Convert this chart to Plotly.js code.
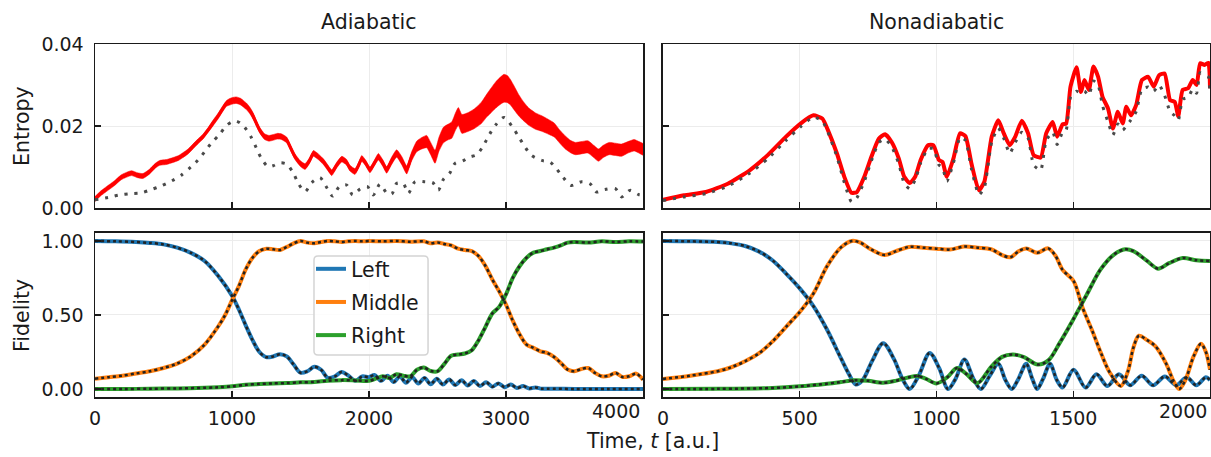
<!DOCTYPE html>
<html>
<head>
<meta charset="utf-8">
<script src="https://cdn.plot.ly/plotly-3.0.1.min.js"></script>
<style>
  html, body { margin: 0; padding: 0; background: #ffffff; }
  #chart { width: 1211px; height: 457px; }
</style>
</head>
<body>
<div id="chart"></div>
<script>
// ---------- Entropy, adiabatic transfer (t in a.u.) ----------
const adiaEntropyT = [
  0, 40, 83, 140, 192, 265, 310, 350, 399, 440,
  472, 520, 569, 610, 642, 680, 715, 750, 788, 825,
  861, 900, 934, 960, 983, 1010, 1031, 1060, 1080, 1105,
  1130, 1153, 1180, 1202, 1238, 1270, 1299, 1330, 1360, 1399,
  1430, 1460, 1500, 1533, 1565, 1594, 1630, 1667, 1700, 1728,
  1765, 1801, 1835, 1861, 1898, 1925, 1947, 1975, 2007, 2040,
  2068, 2100, 2129, 2165, 2202, 2240, 2275, 2310, 2348, 2385,
  2421, 2450, 2482, 2510, 2543, 2575, 2604, 2630, 2652, 2678,
  2725, 2770, 2820, 2862, 2890, 2923, 2955, 2985, 3010, 3031,
  3060, 3092, 3130, 3169, 3215, 3261, 3310, 3353, 3390, 3429,
  3470, 3506, 3550, 3598, 3640, 3675, 3710, 3752, 3800, 3844,
  3890, 3936, 3970, 4000
];
// entropy of the full evolution (centre of the fast-oscillating trace)
const adiaEntropy = [
  0.0022, 0.0035, 0.0046, 0.0060, 0.0075, 0.0085, 0.0080, 0.0078, 0.0089, 0.0103,
  0.0110, 0.0112, 0.0117, 0.0122, 0.0129, 0.0138, 0.0150, 0.0162, 0.0174, 0.0190,
  0.0207, 0.0225, 0.0243, 0.0255, 0.0259, 0.0262, 0.0263, 0.0260, 0.0255, 0.0248,
  0.0238, 0.0225, 0.0205, 0.0190, 0.0174, 0.0170, 0.0172, 0.0175, 0.0174, 0.0166,
  0.0145, 0.0125, 0.0108, 0.0101, 0.0115, 0.0133, 0.0125, 0.0113, 0.0098, 0.0086,
  0.0105, 0.0119, 0.0112, 0.0097, 0.0089, 0.0105, 0.0121, 0.0110, 0.0093, 0.0110,
  0.0125, 0.0110, 0.0093, 0.0115, 0.0133, 0.0115, 0.0093, 0.0125, 0.0150, 0.0158,
  0.0162, 0.0145, 0.0125, 0.0155, 0.0178, 0.0185, 0.0190, 0.0210, 0.0223, 0.0205,
  0.0210, 0.0218, 0.0232, 0.0251, 0.0262, 0.0275, 0.0285, 0.0292, 0.0290, 0.0283,
  0.0268, 0.0251, 0.0235, 0.0222, 0.0212, 0.0206, 0.0198, 0.0190, 0.0175, 0.0161,
  0.0150, 0.0145, 0.0147, 0.0149, 0.0138, 0.0129, 0.0138, 0.0145, 0.0143, 0.0141,
  0.0148, 0.0153, 0.0148, 0.0143
];
// half-amplitude of the fast oscillation around that centre
const adiaEntropySpread = [
  0.0006, 0.0006, 0.0006, 0.0006, 0.0006, 0.0006, 0.0006, 0.0006, 0.0006, 0.0006,
  0.0006, 0.0006, 0.0006, 0.0006, 0.0006, 0.0006, 0.0006, 0.0006, 0.0006, 0.0006,
  0.0007, 0.0007, 0.0007, 0.0007, 0.0008, 0.0008, 0.0008, 0.0008, 0.0008, 0.0008,
  0.0008, 0.0008, 0.0007, 0.0007, 0.0007, 0.0007, 0.0007, 0.0007, 0.0007, 0.0007,
  0.0007, 0.0007, 0.0007, 0.0007, 0.0007, 0.0007, 0.0007, 0.0007, 0.0007, 0.0007,
  0.0007, 0.0007, 0.0007, 0.0007, 0.0007, 0.0007, 0.0007, 0.0007, 0.0007, 0.0007,
  0.0008, 0.0008, 0.0008, 0.0009, 0.0009, 0.0010, 0.0010, 0.0011, 0.0013, 0.0014,
  0.0015, 0.0015, 0.0016, 0.0017, 0.0019, 0.0019, 0.0020, 0.0021, 0.0022, 0.0023,
  0.0023, 0.0024, 0.0026, 0.0028, 0.0030, 0.0032, 0.0033, 0.0034, 0.0033, 0.0031,
  0.0029, 0.0026, 0.0023, 0.0021, 0.0020, 0.0019, 0.0018, 0.0017, 0.0016, 0.0016,
  0.0015, 0.0015, 0.0015, 0.0015, 0.0015, 0.0015, 0.0015, 0.0015, 0.0015, 0.0015,
  0.0014, 0.0014, 0.0014, 0.0014
];
// entropy of the reduced (dotted) model
const adiaModelT = [
  0, 100, 180, 260, 338, 410, 484, 560, 630, 700,
  752, 800, 849, 910, 959, 1000, 1031, 1060, 1092, 1141,
  1178, 1214, 1263, 1300, 1348, 1399, 1448, 1484, 1533, 1582,
  1642, 1691, 1735, 1783, 1837, 1881, 1934, 1988, 2031, 2080,
  2129, 2166, 2202, 2251, 2287, 2336, 2409, 2465, 2506, 2543,
  2591, 2628, 2684, 2732, 2785, 2831, 2880, 2923, 2985, 3046,
  3090, 3123, 3184, 3261, 3322, 3370, 3414, 3475, 3552, 3613,
  3660, 3721, 3798, 3844, 3905, 3966, 4000
];
const adiaModelEntropy = [
  0.0020, 0.0026, 0.0032, 0.0035, 0.0037, 0.0045, 0.0054, 0.0066, 0.0080, 0.0100,
  0.0117, 0.0137, 0.0158, 0.0180, 0.0201, 0.0210, 0.0212, 0.0207, 0.0197, 0.0172,
  0.0146, 0.0121, 0.0101, 0.0103, 0.0110, 0.0107, 0.0085, 0.0060, 0.0040, 0.0062,
  0.0074, 0.0050, 0.0029, 0.0052, 0.0056, 0.0032, 0.0046, 0.0052, 0.0032, 0.0058,
  0.0037, 0.0034, 0.0060, 0.0059, 0.0036, 0.0064, 0.0064, 0.0062, 0.0044, 0.0070,
  0.0086, 0.0109, 0.0115, 0.0124, 0.0130, 0.0150, 0.0180, 0.0202, 0.0221, 0.0198,
  0.0175, 0.0157, 0.0129, 0.0116, 0.0112, 0.0095, 0.0076, 0.0055, 0.0064, 0.0059,
  0.0039, 0.0045, 0.0047, 0.0027, 0.0043, 0.0033, 0.0032
];

// ---------- Entropy, nonadiabatic transfer ----------
const nonadEntropyT = [
  0, 77, 157, 237, 317, 383, 450, 503, 550, 583,
  603, 636, 663, 689, 709, 736, 762, 789, 812, 836,
  862, 882, 902, 922, 942, 969, 989, 1009, 1022, 1038,
  1062, 1086, 1106, 1128, 1155, 1175, 1202, 1226, 1246, 1268,
  1288, 1312, 1335, 1355, 1381, 1401, 1425, 1441, 1461, 1474,
  1490, 1512, 1528, 1541, 1557, 1574, 1591, 1607, 1627, 1645,
  1663, 1681, 1694, 1711, 1730, 1751, 1774, 1794, 1814, 1834,
  1854, 1871, 1884, 1900, 1920, 1937, 1951, 1964, 1980, 1994, 2000
];
const nonadEntropy = [
  0.0020, 0.0031, 0.0039, 0.0059, 0.0092, 0.0129, 0.0174, 0.0206, 0.0226, 0.0218,
  0.0190, 0.0133, 0.0076, 0.0037, 0.0039, 0.0076, 0.0125, 0.0169, 0.0180, 0.0161,
  0.0121, 0.0076, 0.0061, 0.0076, 0.0117, 0.0153, 0.0153, 0.0117, 0.0112, 0.0076,
  0.0121, 0.0182, 0.0175, 0.0108, 0.0043, 0.0064, 0.0174, 0.0214, 0.0182, 0.0153,
  0.0174, 0.0213, 0.0182, 0.0129, 0.0123, 0.0182, 0.0210, 0.0174, 0.0204, 0.0206,
  0.0296, 0.0343, 0.0283, 0.0312, 0.0288, 0.0345, 0.0320, 0.0271, 0.0243, 0.0194,
  0.0235, 0.0206, 0.0247, 0.0226, 0.0251, 0.0312, 0.0320, 0.0296, 0.0324, 0.0328,
  0.0263, 0.0259, 0.0224, 0.0288, 0.0292, 0.0312, 0.0300, 0.0353, 0.0349, 0.0354, 0.0292
];
const nonadModelEntropy = [
  0.0018, 0.0027, 0.0035, 0.0053, 0.0085, 0.0120, 0.0165, 0.0198, 0.0222, 0.0212,
  0.0185, 0.0125, 0.0062, 0.0015, 0.0025, 0.0065, 0.0115, 0.0160, 0.0168, 0.0150,
  0.0108, 0.0060, 0.0047, 0.0068, 0.0110, 0.0145, 0.0145, 0.0105, 0.0098, 0.0065,
  0.0110, 0.0172, 0.0165, 0.0095, 0.0032, 0.0050, 0.0162, 0.0195, 0.0170, 0.0133,
  0.0160, 0.0185, 0.0170, 0.0105, 0.0092, 0.0165, 0.0185, 0.0155, 0.0185, 0.0190,
  0.0270, 0.0285, 0.0280, 0.0285, 0.0275, 0.0310, 0.0300, 0.0250, 0.0210, 0.0178,
  0.0205, 0.0190, 0.0200, 0.0215, 0.0235, 0.0290, 0.0295, 0.0285, 0.0300, 0.0275,
  0.0235, 0.0225, 0.0214, 0.0265, 0.0270, 0.0290, 0.0280, 0.0330, 0.0325, 0.0320, 0.0275
];

// ---------- Fidelity with the left / middle / right wells, adiabatic ----------
const adiaLeftT = [
  0, 150, 300, 400, 500, 600, 700, 800, 900, 1000,
  1050, 1100, 1150, 1200, 1250, 1300, 1350, 1400, 1450, 1500,
  1550, 1600, 1650, 1700, 1750, 1800, 1850, 1900, 1950, 2000,
  2040, 2088, 2135, 2180, 2225, 2270, 2315, 2360, 2405, 2450,
  2495, 2540, 2585, 2630, 2675, 2720, 2765, 2810, 2855, 2900,
  2945, 2990, 3035, 3080, 3125, 3170, 3215, 3260, 3300, 3500,
  3750, 4000
];
const adiaLeft = [
  1.0, 0.998, 0.993, 0.987, 0.977, 0.955, 0.92, 0.865, 0.763, 0.63,
  0.537, 0.43, 0.33, 0.25, 0.215, 0.22, 0.235, 0.22, 0.165, 0.11,
  0.12, 0.15, 0.13, 0.075, 0.085, 0.115, 0.09, 0.055, 0.085, 0.08,
  0.095, 0.055, 0.09, 0.048, 0.085, 0.043, 0.08, 0.038, 0.075, 0.033,
  0.07, 0.03, 0.065, 0.027, 0.06, 0.024, 0.054, 0.02, 0.046, 0.016,
  0.038, 0.012, 0.03, 0.007, 0.02, 0.004, 0.011, 0.002, 0.002, 0.0005,
  0.0, 0.0
];
const adiaMiddleT = [
  0, 100, 200, 300, 400, 500, 600, 700, 800, 900,
  950, 1000, 1050, 1100, 1150, 1200, 1250, 1300, 1350, 1400,
  1450, 1500, 1550, 1600, 1650, 1700, 1750, 1800, 1850, 1900,
  1950, 2000, 2100, 2200, 2300, 2400, 2450, 2500, 2550, 2600,
  2650, 2700, 2750, 2800, 2850, 2900, 2950, 3000, 3050, 3100,
  3150, 3200, 3250, 3300, 3350, 3400, 3450, 3500, 3550, 3600,
  3650, 3700, 3750, 3800, 3850, 3900, 3950, 4000
];
const adiaMiddle = [
  0.07, 0.08, 0.09, 0.105, 0.12, 0.142, 0.172, 0.221, 0.30, 0.424,
  0.5, 0.6, 0.695, 0.808, 0.887, 0.932, 0.948, 0.944, 0.939, 0.96,
  0.984, 1.0, 0.989, 0.984, 0.993, 1.0, 0.998, 0.993, 0.998, 1.0,
  0.998, 1.0, 0.998, 1.0, 0.995, 0.998, 0.984, 0.99, 0.98, 0.97,
  0.948, 0.939, 0.932, 0.898, 0.831, 0.74, 0.66, 0.57, 0.46, 0.368,
  0.30, 0.278, 0.255, 0.244, 0.217, 0.176, 0.131, 0.12, 0.135, 0.142,
  0.108, 0.086, 0.09, 0.108, 0.081, 0.086, 0.104, 0.063
];
const adiaRightT = [
  0, 200, 400, 600, 800, 900, 1000, 1100, 1200, 1300,
  1400, 1500, 1600, 1700, 1800, 1900, 2000, 2050, 2100, 2150,
  2200, 2250, 2300, 2350, 2400, 2450, 2500, 2550, 2600, 2650,
  2700, 2750, 2800, 2850, 2900, 2950, 3000, 3050, 3100, 3150,
  3200, 3250, 3300, 3350, 3400, 3450, 3500, 3600, 3700, 3800,
  3900, 4000
];
const adiaRight = [
  0.0, 0.0, 0.002, 0.004, 0.008, 0.012, 0.018, 0.028, 0.034, 0.038,
  0.04, 0.045, 0.048, 0.056, 0.06, 0.058, 0.055, 0.07, 0.086, 0.075,
  0.1, 0.09, 0.085, 0.13, 0.145, 0.122, 0.12, 0.17, 0.225, 0.233,
  0.24, 0.262, 0.33, 0.42, 0.51, 0.555, 0.64, 0.752, 0.831, 0.887,
  0.921, 0.932, 0.944, 0.955, 0.97, 0.989, 0.993, 0.989, 0.998, 0.993,
  0.998, 0.996
];

// ---------- Fidelity, nonadiabatic ----------
const nonadLeftT = [
  0, 100, 200, 250, 300, 350, 400, 450, 500, 550,
  600, 650, 680, 705, 730, 765, 805, 845, 875, 902,
  935, 975, 1010, 1042, 1070, 1102, 1135, 1162, 1195, 1226,
  1252, 1275, 1300, 1328, 1350, 1368, 1390, 1415, 1440, 1461,
  1501, 1545, 1585, 1625, 1667, 1708, 1750, 1792, 1835, 1877,
  1915, 1950, 1985, 2000
];
const nonadLeft = [
  1.0, 0.998, 0.993, 0.984, 0.966, 0.93, 0.87, 0.78, 0.68, 0.56,
  0.40, 0.21, 0.1, 0.03, 0.06, 0.19, 0.31, 0.2, 0.07, 0.0,
  0.09, 0.244, 0.14, 0.0, 0.07, 0.2, 0.07, 0.0, 0.09, 0.17,
  0.06, 0.0, 0.07, 0.17, 0.07, 0.0, 0.07, 0.17, 0.06, 0.01,
  0.13, 0.01, 0.1, 0.02, 0.1, 0.025, 0.09, 0.025, 0.085, 0.025,
  0.08, 0.025, 0.08, 0.06
];
const nonadMiddleT = [
  0, 100, 200, 250, 300, 350, 400, 450, 500, 550,
  600, 650, 690, 720, 760, 810, 850, 900, 950, 1000,
  1050, 1100, 1150, 1200, 1240, 1270, 1300, 1328, 1368, 1408,
  1435, 1461, 1501, 1534, 1568, 1601, 1634, 1674, 1700, 1720,
  1740, 1770, 1800, 1840, 1865, 1887, 1910, 1940, 1967, 1985,
  2000
];
const nonadMiddle = [
  0.068, 0.09, 0.12, 0.147, 0.187, 0.24, 0.32, 0.42, 0.52, 0.645,
  0.83, 0.955, 1.0, 0.99, 0.944, 0.905, 0.93, 0.96, 0.955, 0.948,
  0.942, 0.962, 0.955, 0.944, 0.905, 0.89, 0.93, 0.95, 0.92, 0.95,
  0.9, 0.805, 0.73, 0.55, 0.40, 0.245, 0.11, 0.02, 0.12, 0.28,
  0.36, 0.33, 0.29, 0.17, 0.06, 0.0, 0.06, 0.22, 0.305, 0.25,
  0.13
];
const nonadRightT = [
  0, 200, 400, 500, 600, 650, 700, 750, 805, 850,
  900, 930, 960, 1000, 1040, 1075, 1110, 1150, 1200, 1240,
  1280, 1320, 1370, 1410, 1450, 1500, 1550, 1600, 1650, 1690,
  1720, 1770, 1810, 1850, 1900, 1950, 2000
];
const nonadRight = [
  0.0, 0.001, 0.007, 0.018, 0.036, 0.047, 0.059, 0.055, 0.042, 0.055,
  0.08, 0.088, 0.07, 0.038, 0.08, 0.142, 0.1, 0.04, 0.15, 0.217,
  0.233, 0.215, 0.165, 0.195, 0.31, 0.47, 0.64, 0.808, 0.91, 0.944,
  0.932, 0.865, 0.813, 0.85, 0.885, 0.87, 0.865
];

// ---------- labels ----------
const panelTitles = ['Adiabatic', 'Nonadiabatic'];
const rowTitles = ['Entropy', 'Fidelity'];
const xTitle = 'Time, <i>t</i> [a.u.]';
const wellNames = ['Left', 'Middle', 'Right'];
const entropyTicks = [0, 0.02, 0.04];
const entropyTickText = ['0.00', '0.02', '0.04'];
const fidelityTicks = [0, 0.5, 1];
const fidelityTickText = ['0.00', '0.50', '1.00'];
const adiaTimeTicks = [0, 1000, 2000, 3000, 4000];
const nonadTimeTicks = [0, 500, 1000, 1500, 2000];

// ---------- styling ----------
const FONT = 'DejaVu Sans, Liberation Sans, sans-serif';
const INK = '#1a1a1a';
const TICK_SIZE = 19;
const TEXT_SIZE = 20.5;
const wellColors = ['#1f77b4', '#ff7f0e', '#2ca02c'];
const RED = '#ff0000';
const MODEL_GREY = '#4a4a4a';

function band(t, centre, spread, xa, ya) {
  const upper = centre.map((v, i) => v + spread[i]);
  const lower = centre.map((v, i) => v - spread[i]).reverse();
  return {
    type: 'scatter', mode: 'lines', xaxis: xa, yaxis: ya,
    x: t.concat(t.slice().reverse()), y: upper.concat(lower),
    fill: 'toself', fillcolor: RED,
    line: {width: 0.5, color: RED, shape: 'spline', smoothing: 0.5},
    hoverinfo: 'skip', showlegend: false
  };
}
function curve(t, y, xa, ya, color, width, dash, smooth, extra) {
  return Object.assign({
    type: 'scatter', mode: 'lines', xaxis: xa, yaxis: ya, x: t, y: y,
    line: {color: color, width: width, dash: dash,
           shape: smooth ? 'spline' : 'linear', smoothing: smooth || 0},
    showlegend: false, hoverinfo: 'skip'
  }, extra || {});
}

const traces = [];
// top-left: adiabatic entropy
traces.push(band(adiaEntropyT, adiaEntropy, adiaEntropySpread, 'x', 'y'));
traces.push(curve(adiaEntropyT, adiaEntropy, 'x', 'y', RED, 3, 'solid', 0.5));
traces.push(curve(adiaModelT, adiaModelEntropy, 'x', 'y', MODEL_GREY, 3, '3px,7px', 0.8));
// top-right: nonadiabatic entropy
traces.push(curve(nonadEntropyT, nonadEntropy, 'x2', 'y2', RED, 4, 'solid', 0.5));
traces.push(curve(nonadEntropyT, nonadModelEntropy, 'x2', 'y2', MODEL_GREY, 3, '3px,7px', 0.5));

// bottom row: fidelities, solid coloured lines with a dotted black overlay
const adiaSets = [[adiaLeftT, adiaLeft], [adiaMiddleT, adiaMiddle], [adiaRightT, adiaRight]];
const nonadSets = [[nonadLeftT, nonadLeft], [nonadMiddleT, nonadMiddle], [nonadRightT, nonadRight]];
adiaSets.forEach((s, i) => traces.push(curve(s[0], s[1], 'x3', 'y3', wellColors[i], 4, 'solid', 0.9,
  {name: wellNames[i], showlegend: true, legendgroup: wellNames[i]})));
nonadSets.forEach((s, i) => traces.push(curve(s[0], s[1], 'x4', 'y4', wellColors[i], 4, 'solid', 0.9)));
adiaSets.forEach(s => traces.push(curve(s[0], s[1], 'x3', 'y3', '#222222', 2.5, '3px,3px', 0.9)));
nonadSets.forEach(s => traces.push(curve(s[0], s[1], 'x4', 'y4', '#222222', 2.5, '3px,3px', 0.9)));

// ---------- axes ----------
const leftDom = [0, 0.4915];
const rightDom = [0.5094, 1];
const topDom = [0.5354, 1];
const botDom = [0, 0.4646];
function axis(extra) {
  return Object.assign({
    showline: true, mirror: true, linecolor: INK, linewidth: 1.5,
    ticks: 'inside', ticklen: 6, tickwidth: 1.3, tickcolor: INK,
    showgrid: true, gridcolor: '#ececec', gridwidth: 1, zeroline: false,
    tickfont: {family: FONT, size: TICK_SIZE, color: INK}, fixedrange: true
  }, extra);
}
function label(text, xref, x, y, opts) {
  return Object.assign({text: text, xref: xref, yref: 'paper', x: x, y: y,
    xanchor: 'center', yanchor: 'middle', showarrow: false,
    font: {family: FONT, size: TEXT_SIZE, color: INK}}, opts || {});
}

// rounded frame behind the legend entries (paper units; 1115 x 353 px plot area)
const box = {x0: 0.1964, x1: 0.2987, y0: 0.1190, y1: 0.3994};
const rx = 4 / 1115, ry = 4 / 353;
const boxPath = [
  'M', box.x0 + rx, box.y1, 'L', box.x1 - rx, box.y1,
  'Q', box.x1, box.y1, box.x1, box.y1 - ry, 'L', box.x1, box.y0 + ry,
  'Q', box.x1, box.y0, box.x1 - rx, box.y0, 'L', box.x0 + rx, box.y0,
  'Q', box.x0, box.y0, box.x0, box.y0 + ry, 'L', box.x0, box.y1 - ry,
  'Q', box.x0, box.y1, box.x0 + rx, box.y1, 'Z'
].join(' ');

const layout = {
  width: 1211, height: 457,
  margin: {l: 95, r: 1, t: 44, b: 60},
  paper_bgcolor: '#ffffff', plot_bgcolor: '#ffffff',
  font: {family: FONT, size: TICK_SIZE, color: INK},
  xaxis: axis({domain: leftDom, anchor: 'y', range: [0, 4000], tickvals: adiaTimeTicks, showticklabels: false}),
  yaxis: axis({domain: topDom, anchor: 'x', range: [0, 0.04], tickvals: entropyTicks, ticktext: entropyTickText, ticklabelstandoff: 6}),
  xaxis2: axis({domain: rightDom, anchor: 'y2', range: [0, 2000], tickvals: nonadTimeTicks, showticklabels: false}),
  yaxis2: axis({domain: topDom, anchor: 'x2', range: [0, 0.04], tickvals: entropyTicks, showticklabels: false}),
  xaxis3: axis({domain: leftDom, anchor: 'y3', range: [0, 4000], tickvals: adiaTimeTicks,
                ticktext: ['0', '1000', '2000', '3000', ''], ticklabelstandoff: 4}),
  yaxis3: axis({domain: botDom, anchor: 'x3', range: [-0.054, 1.054], tickvals: fidelityTicks, ticktext: fidelityTickText, ticklabelstandoff: 6}),
  xaxis4: axis({domain: rightDom, anchor: 'y4', range: [0, 2000], tickvals: nonadTimeTicks,
                ticktext: ['0', '500', '1000', '1500', ''], ticklabelstandoff: 4}),
  yaxis4: axis({domain: botDom, anchor: 'x4', range: [-0.054, 1.054], tickvals: fidelityTicks, showticklabels: false}),
  showlegend: true,
  legend: {
    x: 0.1937, y: 0.4193, xanchor: 'left', yanchor: 'top',
    bgcolor: 'rgba(0,0,0,0)', borderwidth: 0,
    font: {family: FONT, size: TEXT_SIZE, color: INK},
    traceorder: 'grouped', tracegroupgap: 3.5
  },
  shapes: [
    {type: 'path', xref: 'paper', yref: 'paper', path: boxPath, layer: 'above',
     fillcolor: 'rgba(255,255,255,0.82)', line: {color: '#d4d4d4', width: 1.5}}
  ],
  annotations: [
    label(panelTitles[0], 'paper', 0.2457, 1.0623),
    label(panelTitles[1], 'paper', 0.7547, 1.0623),
    label(rowTitles[0], 'paper', -0.0655, 0.7677, {textangle: -90}),
    label(rowTitles[1], 'paper', -0.0655, 0.2323, {textangle: -90}),
    label(xTitle, 'paper', 0.5, -0.1246),
    // last tick label on each time axis sits flush with the right frame
    label(String(adiaTimeTicks[4]), 'x3', adiaTimeTicks[4], -0.0397,
          {xanchor: 'right', xshift: -1, font: {family: FONT, size: TICK_SIZE, color: INK}}),
    label(String(nonadTimeTicks[4]), 'x4', nonadTimeTicks[4], -0.0397,
          {xanchor: 'right', xshift: -1, font: {family: FONT, size: TICK_SIZE, color: INK}})
  ]
};

Plotly.newPlot('chart', traces, layout, {displayModeBar: false, staticPlot: true});
</script>
</body>
</html>
